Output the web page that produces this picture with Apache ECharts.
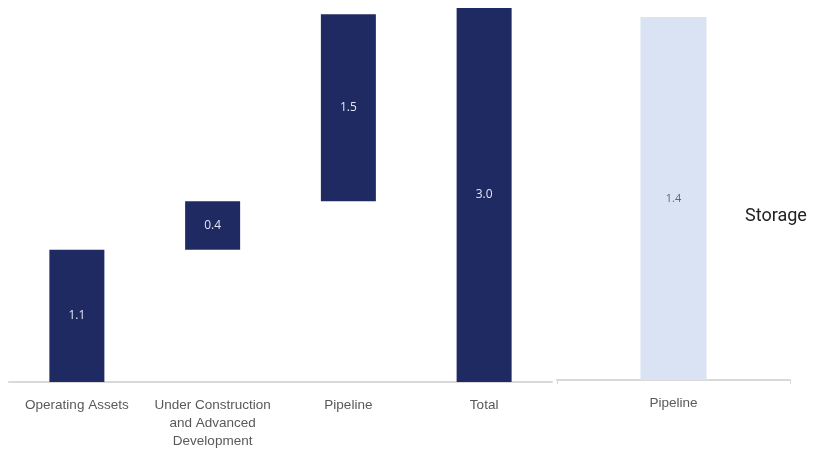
<!DOCTYPE html>
<html>
<head>
<meta charset="utf-8">
<script src="https://cdn.jsdelivr.net/npm/echarts@6/dist/echarts.min.js"></script>
<style>
  html, body { margin: 0; padding: 0; background: #fff; }
  #chart { width: 817px; height: 451px; }
</style>
</head>
<body>
<div id="chart"></div>
<script>
// datos del grafico
var categories = ["Operating Assets", "Under Construction\nand Advanced\nDevelopment", "Pipeline", "Total"];
var values = [1.06, 0.39, 1.5, 3.0];
var isTotal = [false, false, false, true];
var storageCategories = ["Pipeline"];
var storageValues = [1.4];
var storageTitle = "Storage";

// base invisible para el waterfall
var bases = [];
var acumulado = 0;
for (var i = 0; i < values.length; i++) {
  if (isTotal[i]) {
    bases.push(0);
  } else {
    bases.push(acumulado);
    acumulado += values[i];
  }
}

var labelFont = "'Liberation Sans Narrow', 'Liberation Sans', sans-serif";

document.addEventListener("DOMContentLoaded", () => {
  var chart = echarts.init(document.querySelector("#chart"));

  chart.setOption({
    animation: false,
    title: {
      text: storageTitle,
      left: 740,
      top: 202,
      textStyle: { fontFamily: "Roboto", fontSize: 18, fontWeight: "normal", color: "#222" },
    },
    grid: [
      { left: 9, top: 8, width: 543, bottom: 69, outerBoundsMode: "none", containLabel: false },
      { left: 557, top: 17, width: 233, bottom: 71, outerBoundsMode: "none", containLabel: false },
    ],
    xAxis: [
      {
        type: "category",
        gridIndex: 0,
        data: categories,
        axisLine: { lineStyle: { color: "#d9d9d9", width: 2 } },
        axisTick: { show: false },
        axisLabel: {
          color: "#595959",
          fontFamily: labelFont,
          fontSize: 13.5,
          lineHeight: 18,
          margin: 14,
          interval: 0,
        },
      },
      {
        type: "category",
        gridIndex: 1,
        data: storageCategories,
        axisLine: { lineStyle: { color: "#d9d9d9", width: 2 } },
        axisTick: { show: true, length: 4, lineStyle: { color: "#d9d9d9" } },
        axisLabel: {
          color: "#595959",
          fontFamily: labelFont,
          fontSize: 13.5,
          margin: 16,
        },
      },
    ],
    yAxis: [
      { type: "value", gridIndex: 0, min: 0, max: 3.0, show: false },
      { type: "value", gridIndex: 1, min: 0, max: 1.4, show: false },
    ],
    series: [
      {
        name: "base",
        type: "bar",
        stack: "wf",
        xAxisIndex: 0,
        yAxisIndex: 0,
        barWidth: 55,
        itemStyle: { color: "transparent" },
        data: bases,
        silent: true,
      },
      {
        name: "valor",
        type: "bar",
        stack: "wf",
        xAxisIndex: 0,
        yAxisIndex: 0,
        barWidth: 55,
        itemStyle: { color: "#1f2a62" },
        label: {
          show: true,
          position: "inside",
          color: "#e3e7f3",
          fontFamily: "'Open Sans', sans-serif",
          fontSize: 12,
          formatter: function (p) {
            return p.value.toFixed(1);
          },
        },
        data: values,
      },
      {
        name: "Storage",
        type: "bar",
        xAxisIndex: 1,
        yAxisIndex: 1,
        barWidth: 66,
        itemStyle: { color: "#dae3f3" },
        label: {
          show: true,
          position: "inside",
          color: "#666",
          fontFamily: "'Open Sans', sans-serif",
          fontSize: 11,
          formatter: function (p) {
            return p.value.toFixed(1);
          },
        },
        data: storageValues,
      },
    ],
  });
});
</script>
</body>
</html>
